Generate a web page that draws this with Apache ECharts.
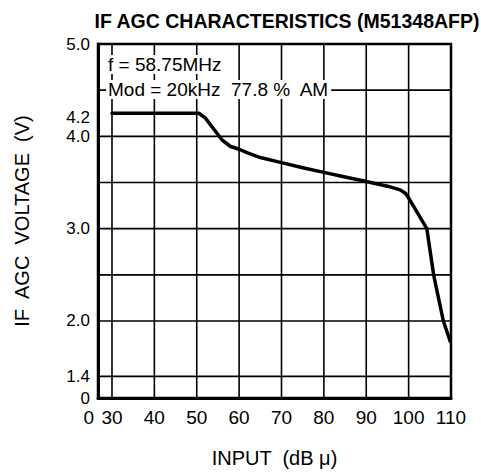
<!DOCTYPE html>
<html><head><meta charset="utf-8">
<script src="https://cdn.jsdelivr.net/npm/echarts@6.0.0/dist/echarts.min.js"></script>
<style>html,body{margin:0;padding:0;background:#fff}#c{width:481px;height:475px}</style>
</head><body><div id="c"></div>
<script>
// Input level (dB µ)
const inputDb = [30, 50.5, 52, 54, 56, 58, 60, 62, 65, 70, 75, 80, 85, 90, 95, 98, 99.3, 100.3, 104.3, 105.9, 108.2, 109.8];
// IF AGC voltage (V)
const agcVoltage = [4.25, 4.25, 4.2, 4.08, 3.96, 3.89, 3.86, 3.82, 3.77, 3.715, 3.66, 3.61, 3.56, 3.51, 3.46, 3.42, 3.38, 3.31, 3.0, 2.5, 2.0, 1.78];
// axis tick labels (the axes are broken: the first label of each is the origin, 0)
const xTickLabels = [30, 40, 50, 60, 70, 80, 90, 100, 110];
const yTickLabels = [0, 1.4, 2, 3, 4, 4.2, 5];
// grid line positions
const xGridValues = [30, 40, 50, 60, 70, 80, 90, 100, 110];
const yGridValues = [1.4, 2, 2.5, 3, 3.5, 4, 4.5, 5];
// where the broken axes start (drawn as "0")
const xBreakMin = 26.7;
const yBreakMin = 1.166;

const chart = echarts.init(document.getElementById('c'), null, { renderer: 'svg' });
const FONT = 'Liberation Sans';
const gridStyle = { color: '#000', width: 1.6, type: 'solid' };
const yAxisValues = yTickLabels.map(v => (v === 0 ? yBreakMin : v));
chart.setOption({
  animation: false,
  backgroundColor: '#fff',
  textStyle: { fontFamily: FONT, color: '#000' },
  title: {
    text: 'IF AGC CHARACTERISTICS (M51348AFP)',
    left: 282, top: 6, textAlign: 'center',
    textStyle: { fontFamily: FONT, fontSize: 19.5, fontWeight: 'bold', color: '#000' }
  },
  grid: {
    left: 98, right: 30, top: 44, bottom: 77,
    containLabel: false, outerBoundsMode: 'none',
    show: true, borderColor: '#000', borderWidth: 2.5
  },
  xAxis: [{
    type: 'value', min: xBreakMin, max: 110,
    name: 'INPUT  (dB \u03bc)', nameLocation: 'middle', nameGap: 50,
    nameTextStyle: { fontFamily: FONT, fontSize: 20, color: '#000' },
    axisLine: { show: true, onZero: false, lineStyle: { color: '#000', width: 3 } },
    axisTick: { show: false, customValues: xGridValues },
    axisLabel: { customValues: xTickLabels, fontSize: 19, color: '#000', margin: 10, fontFamily: FONT,
      showMinLabel: true, showMaxLabel: true, hideOverlap: false },
    splitLine: { show: false }
  }, {
    type: 'value', min: xBreakMin, max: 110, position: 'bottom',
    axisLine: { show: false }, axisTick: { show: false }, splitLine: { show: false },
    axisLabel: { customValues: [xBreakMin], fontSize: 19, color: '#000', margin: 10, fontFamily: FONT,
      align: 'right', padding: [0, 4, 0, 0], formatter: () => '0' }
  }],
  yAxis: {
    type: 'value', min: yBreakMin, max: 5,
    name: 'IF  AGC  VOLTAGE  (V)', nameLocation: 'middle', nameGap: 66, nameRotate: 90,
    nameTextStyle: { fontFamily: FONT, fontSize: 20, color: '#000' },
    axisLine: { show: true, onZero: false, lineStyle: { color: '#000', width: 3 } },
    axisTick: { show: false, customValues: yGridValues },
    axisLabel: {
      customValues: yAxisValues, fontSize: 17, color: '#000', margin: 8, fontFamily: FONT,
      showMinLabel: true, showMaxLabel: true, hideOverlap: false,
      formatter: v => (v < 1.4 ? '0' : Number(v).toFixed(1))
    },
    splitLine: { show: false }
  },
  graphic: [
    { type: 'text', left: 106, top: 55, z: 100,
      style: { text: 'f = 58.75MHz', font: '19px "Liberation Sans"', fill: '#000', backgroundColor: '#fff', padding: [0, 2] } },
    { type: 'text', left: 106, top: 80, z: 100,
      style: { text: 'Mod = 20kHz  77.8 %  AM', font: '19px "Liberation Sans"', fill: '#000', backgroundColor: '#fff', padding: [0, 2] } }
  ],
  series: [{
    // grid lines drawn through the axes' own scales
    type: 'custom',
    silent: true,
    z: 1,
    data: [0],
    renderItem: (params, api) => {
      const children = [];
      xGridValues.forEach(v => {
        const p0 = api.coord([v, yBreakMin]);
        const p1 = api.coord([v, 5]);
        children.push({ type: 'line', shape: { x1: p0[0], y1: p0[1], x2: p1[0], y2: p1[1] },
          style: { stroke: '#000', lineWidth: 1.6 } });
      });
      yGridValues.forEach(v => {
        const p0 = api.coord([xBreakMin, v]);
        const p1 = api.coord([110, v]);
        children.push({ type: 'line', shape: { x1: p0[0], y1: p0[1], x2: p1[0], y2: p1[1] },
          style: { stroke: '#000', lineWidth: 1.6 } });
      });
      return { type: 'group', children };
    }
  }, {
    type: 'line',
    data: inputDb.map((x, i) => [x, agcVoltage[i]]),
    symbol: 'none', smooth: false,
    lineStyle: { color: '#000', width: 3.5, join: 'round', cap: 'round' },
    z: 5
  }]
});
</script>
</body></html>
